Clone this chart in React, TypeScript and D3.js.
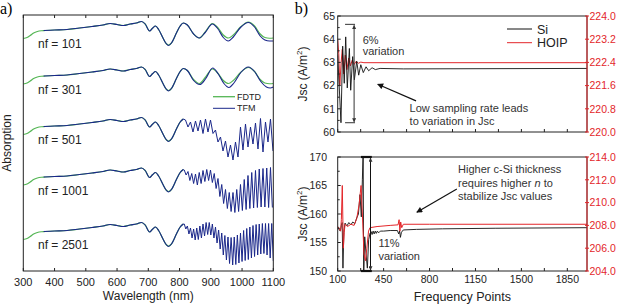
import * as d3 from "d3";

type Pt = [number, number];

// ---------- (a) absorption spectra, stacked ----------
const wavelengthTicks = [300, 400, 500, 600, 700, 800, 900, 1000, 1100];
const spectrumNames = ["nf = 101", "nf = 301", "nf = 501", "nf = 1001", "nf = 2501"];
// vertical shift of each spectrum (absorption units)
const spectrumShift = [4.02, 3.11, 2.1, 1.09, 0];

// FDTD reference spectrum
const fdtd: Pt[] = [
  [300, 0.55], [312, 0.57], [322, 0.61], [333, 0.66], [345, 0.69], [358, 0.705],
  [370, 0.71], [400, 0.72], [440, 0.73], [480, 0.76], [520, 0.79], [555, 0.82],
  [578, 0.85], [600, 0.83], [620, 0.81], [642, 0.84], [662, 0.86], [678, 0.89],
  [690, 0.84], [704, 0.7], [714, 0.76], [723, 0.8], [733, 0.73], [747, 0.56],
  [757, 0.45], [765, 0.42], [774, 0.46], [790, 0.66], [802, 0.8], [812, 0.86],
  [825, 0.82], [845, 0.64], [863, 0.56], [882, 0.68], [905, 0.85], [922, 0.77],
  [940, 0.62], [956, 0.56], [972, 0.62], [995, 0.78], [1020, 0.88], [1040, 0.8],
  [1058, 0.64], [1073, 0.57], [1088, 0.555], [1100, 0.56],
];

// TFM, part that all sampling densities share
const tfmCommon: Pt[] = [
  [365, 0.71], [400, 0.72], [440, 0.73], [480, 0.76], [520, 0.79], [555, 0.82],
  [578, 0.85], [600, 0.83], [620, 0.81], [642, 0.84], [662, 0.86], [678, 0.89],
  [690, 0.84], [704, 0.7], [714, 0.76], [723, 0.8], [733, 0.73], [747, 0.56],
  [757, 0.45], [765, 0.41], [774, 0.46], [790, 0.66], [802, 0.8], [812, 0.86],
];

const tfm101Tail: Pt[] = [
  [825, 0.82], [845, 0.64], [863, 0.56], [882, 0.67], [905, 0.84], [922, 0.75],
  [940, 0.57], [956, 0.5], [972, 0.58], [995, 0.77], [1020, 0.87], [1040, 0.78],
  [1058, 0.6], [1073, 0.52], [1088, 0.5], [1100, 0.5],
];
const tfm301Tail: Pt[] = [
  [825, 0.82], [845, 0.62], [865, 0.54], [884, 0.66], [906, 0.87], [924, 0.75],
  [942, 0.56], [958, 0.48], [974, 0.57], [996, 0.78], [1020, 0.89], [1040, 0.8],
  [1060, 0.6], [1078, 0.49], [1090, 0.47], [1100, 0.49],
];

// thin-film fringes: upper / lower turning points, one pair per step (nm)
const fringe501Start = 819;
const fringe501Step = 16;
const fringe501Hi = [0.84, 0.8, 0.82, 0.84, 0.86, 0.84, 0.64, 0.5, 0.42, 0.34, 0.4, 0.7, 0.76, 0.7, 0.78, 0.87, 0.8, 0.86];
const fringe501Lo = [0.7, 0.6, 0.62, 0.57, 0.6, 0.57, 0.4, 0.22, 0.1, 0.04, 0.1, 0.24, 0.3, 0.36, 0.26, 0.2, 0.4, 0.22];

const fringe1001Start = 815;
const fringe1001Step = 12;
const fringe1001Hi = [0.85, 0.82, 0.78, 0.77, 0.8, 0.84, 0.86, 0.85, 0.78, 0.68, 0.56, 0.46, 0.4, 0.4, 0.46, 0.56, 0.66, 0.74, 0.8, 0.84, 0.87, 0.88, 0.89, 0.9];
const fringe1001Lo = [0.75, 0.64, 0.58, 0.55, 0.58, 0.62, 0.64, 0.6, 0.48, 0.32, 0.18, 0.08, 0.02, 0.0, 0.02, 0.04, 0.06, 0.08, 0.09, 0.1, 0.11, 0.11, 0.1, 0.1];

const fringe2501Start = 815;
const fringe2501Step = 10;
const fringe2501Hi = [0.86, 0.82, 0.78, 0.76, 0.78, 0.82, 0.86, 0.89, 0.89, 0.86, 0.8, 0.74, 0.68, 0.63, 0.6, 0.59, 0.6, 0.64, 0.68, 0.73, 0.77, 0.8, 0.83, 0.85, 0.86, 0.87, 0.87, 0.87, 0.87];
const fringe2501Lo = [0.76, 0.66, 0.58, 0.54, 0.55, 0.58, 0.62, 0.65, 0.64, 0.58, 0.48, 0.36, 0.24, 0.14, 0.07, 0.04, 0.05, 0.08, 0.11, 0.13, 0.15, 0.18, 0.21, 0.24, 0.26, 0.27, 0.24, 0.18, 0.12];

// ---------- (b) Jsc vs number of frequency points ----------
const freqLabelTicks = [100, 450, 800, 1150, 1500, 1850];
const siTopTicks = [60, 61, 62, 63, 64, 65];
const hoipTopTicks = [220.0, 220.8, 221.6, 222.4, 223.2, 224.0];
const siBotTicks = [150, 155, 160, 165, 170];
const hoipBotTicks = [204, 206, 208, 210, 212, 214];

const siTop: Pt[] = [
  [100, 63.3], [125, 60.4], [138, 63.7], [150, 62.1], [161, 64.1], [173, 61.9],
  [189, 63.6], [199, 61.8], [214, 63.25], [227, 62.25], [245, 63.05], [260, 62.45],
  [276, 62.9], [295, 62.56], [316, 62.81], [336, 62.64], [362, 62.77], [387, 62.69],
  [423, 62.74], [600, 62.72], [2000, 62.74],
];
const hoipTop: Pt[] = [
  [100, 223.2], [108, 222.7], [116, 221.6], [126, 222.4], [135, 222.85], [146, 222.0],
  [158, 222.65], [170, 222.15], [184, 222.55], [197, 222.28], [211, 222.48], [226, 222.33],
  [241, 222.44], [257, 222.37], [276, 222.41], [300, 222.39], [2000, 222.39],
];
const siBot: Pt[] = [
  [100, 157.8], [110, 157.3], [120, 157.0], [128, 158.0], [134, 158.5], [140, 150.5],
  [147, 157.0], [156, 158.4], [170, 157.9], [185, 158.5], [200, 158.1], [215, 158.6],
  [230, 158.3], [245, 159.3], [258, 160.0], [270, 163.4], [280, 159.5], [288, 166.0],
  [294, 171.0], [298, 149.0], [306, 156.0], [316, 153.0], [326, 150.5], [336, 155.5],
  [346, 156.6], [355, 156.9], [362, 156.4], [370, 157.0], [378, 156.5], [386, 157.0],
  [394, 156.6], [402, 157.0], [412, 156.7], [425, 157.0], [450, 157.0], [500, 157.1],
  [555, 157.1], [565, 156.5], [572, 157.0], [578, 155.9], [586, 156.8], [600, 157.2],
  [700, 157.3], [900, 157.4], [1300, 157.5], [2000, 157.6],
];
const hoipBot: Pt[] = [
  [100, 207.9], [112, 207.7], [122, 207.5], [128, 208.5], [135, 211.5], [143, 206.0],
  [150, 207.4], [156, 208.1], [175, 207.9], [200, 208.1], [225, 208.0], [245, 208.6],
  [263, 209.8], [278, 211.5], [288, 209.0], [300, 205.5], [312, 204.9], [322, 206.0],
  [335, 207.5], [346, 207.8], [400, 207.9], [500, 208.0], [560, 208.05], [568, 208.5],
  [574, 207.5], [580, 208.3], [588, 207.8], [600, 208.1], [800, 208.1], [2000, 208.1],
];

const SANS = "'Liberation Sans', Arial, Helvetica, sans-serif";
const SERIF = "'Liberation Serif', 'Times New Roman', serif";
const GREEN = "#55b655";
const BLUE = "#1a278a";
const RED = "#e3262a";
const INK = "#222";

const zigzag = (start: number, step: number, hi: number[], lo: number[]): Pt[] =>
  hi.flatMap((h, i) => [
    [start + i * step, h] as Pt,
    [start + i * step + step / 2, lo[i]] as Pt,
  ]);

type SubplotProps = {
  id: string;
  yL: d3.ScaleLinear<number, number>;
  yR: d3.ScaleLinear<number, number>;
  leftTicks: number[];
  leftMinorStep: number;
  rightTicks: number[];
  leftLabelEnd: number;
  xLabels: boolean;
  children?: React.ReactNode;
};

export default function App() {
  // ---- panel a scales ----
  const xA = d3.scaleLinear().domain([300, 1100]).range([23.3, 273.3]);
  const yA = d3.scaleLinear().domain([-0.08, 5.04]).range([271, 15]);
  const [aL, aR] = xA.range();
  const [aB, aT] = yA.range();

  const lineA = (shift: number, curve: d3.CurveFactory) =>
    d3.line<Pt>().x((d) => xA(d[0])).y((d) => yA(d[1] + shift)).curve(curve);

  const fringes: (Pt[] | null)[] = [
    null,
    null,
    zigzag(fringe501Start, fringe501Step, fringe501Hi, fringe501Lo),
    zigzag(fringe1001Start, fringe1001Step, fringe1001Hi, fringe1001Lo),
    zigzag(fringe2501Start, fringe2501Step, fringe2501Hi, fringe2501Lo),
  ];
  const smoothTails: (Pt[] | null)[] = [tfm101Tail, tfm301Tail, null, null, null];
  // under the dense fringes the FDTD trace is hidden; draw it up to where they begin
  const fdtdShort = fdtd.filter((d) => d[0] <= 812);

  // ---- panel b scales ----
  const xB = d3.scaleLinear().domain([100, 2000]).range([337.7, 587]);
  const yTL = d3.scaleLinear().domain([60, 65]).range([132, 16]);
  const yTR = d3.scaleLinear().domain([220, 224]).range([132, 16]);
  const yBL = d3.scaleLinear().domain([150, 170]).range([271, 157]);
  const yBR = d3.scaleLinear().domain([204, 214]).range([271, 157]);
  const [bL, bR] = xB.range();
  const freqMinor = d3.range(100, 2001, 175);

  const lineB = (y: d3.ScaleLinear<number, number>) =>
    d3.line<Pt>().x((d) => xB(d[0])).y((d) => y(d[1]));

  const Subplot = ({ id, yL, yR, leftTicks, leftMinorStep, rightTicks, leftLabelEnd, xLabels, children }: SubplotProps) => {
    const [y1, y0] = yL.range();
    const [lo, hi] = yL.domain();
    const minor = d3.range(lo, hi + 1e-9, leftMinorStep);
    return (
      <g>
        <clipPath id={id}>
          <rect x={bL} y={y0} width={bR - bL} height={y1 - y0} />
        </clipPath>
        <g clipPath={`url(#${id})`}>{children}</g>
        <rect x={bL} y={y0} width={bR - bL} height={y1 - y0} fill="none" stroke={INK} strokeWidth={1} />
        <line x1={bR} x2={bR} y1={y0} y2={y1} stroke={RED} strokeWidth={1} />
        {minor.map((v) => (
          <line key={"lm" + v} x1={bL} x2={bL + (leftTicks.includes(+v.toFixed(3)) ? 3 : 2)} y1={yL(v)} y2={yL(v)} stroke={INK} />
        ))}
        {leftTicks.map((v) => (
          <text key={"lt" + v} x={leftLabelEnd} y={yL(v) + 3.7} fontSize={10.5} textAnchor="end" fill={INK}>
            {v}
          </text>
        ))}
        {rightTicks.map((v) => (
          <g key={"rt" + v}>
            <line x1={bR - 2} x2={bR + 2} y1={yR(v)} y2={yR(v)} stroke={RED} />
            <text x={bR + 2.5} y={yR(v) + 3.7} fontSize={10.5} fill={RED}>
              {v.toFixed(1)}
            </text>
          </g>
        ))}
        {freqMinor.map((f) => (
          <line key={"xm" + f} x1={xB(f)} x2={xB(f)} y1={y1} y2={y1 - 3} stroke={INK} />
        ))}
        {xLabels &&
          freqLabelTicks.map((f) => (
            <text key={"xl" + f} x={xB(f)} y={282.5} fontSize={10.5} textAnchor="middle" fill={INK}>
              {f}
            </text>
          ))}
      </g>
    );
  };

  return (
    <svg
      width={620}
      height={306}
      style={{ position: "absolute", left: 0, top: 0, background: "#fff" }}
      fontFamily={SANS}
    >
      <defs>
        <marker id="head" viewBox="0 0 10 10" refX="9" refY="5" markerUnits="userSpaceOnUse" markerWidth="8" markerHeight="6" orient="auto-start-reverse">
          <path d="M0,0 L10,5 L0,10 z" fill="#111" />
        </marker>
        <marker id="tip" viewBox="0 0 10 10" refX="9" refY="5" markerUnits="userSpaceOnUse" markerWidth="5" markerHeight="4" orient="auto-start-reverse">
          <path d="M0,0 L10,5 L0,10 z" fill="#333" />
        </marker>
        <clipPath id="clipA">
          <rect x={aL} y={aT} width={aR - aL} height={aB - aT} />
        </clipPath>
      </defs>

      {/* ---------------- panel a ---------------- */}
      <text x={0} y={14} fontFamily={SERIF} fontSize={16}>a)</text>
      <g clipPath="url(#clipA)">
        {spectrumShift.map((s, i) => {
          const fr = fringes[i];
          const tail = smoothTails[i];
          return (
            <g key={spectrumNames[i]}>
              <path d={lineA(s, d3.curveMonotoneX)(tail ? fdtd : fdtdShort) ?? ""} fill="none" stroke={GREEN} strokeWidth={1.2} />
              {tail ? (
                <path d={lineA(s, d3.curveMonotoneX)([...tfmCommon, ...tail]) ?? ""} fill="none" stroke={BLUE} strokeWidth={1.1} />
              ) : (
                <>
                  <path d={lineA(s, d3.curveMonotoneX)(tfmCommon) ?? ""} fill="none" stroke={BLUE} strokeWidth={1.1} />
                  <path d={lineA(s, d3.curveLinear)([tfmCommon[tfmCommon.length - 1], ...(fr ?? [])]) ?? ""} fill="none" stroke={BLUE} strokeWidth={1} />
                </>
              )}
            </g>
          );
        })}
      </g>
      {spectrumShift.map((s, i) => (
        <text key={"lab" + i} x={38} y={yA(s + 0.55) + 9.5} fontSize={12} fill={INK}>
          {spectrumNames[i]}
        </text>
      ))}
      <rect x={aL} y={aT} width={aR - aL} height={aB - aT} fill="none" stroke={INK} strokeWidth={1} />
      {wavelengthTicks.map((w) => (
        <g key={"w" + w}>
          <line x1={xA(w)} x2={xA(w)} y1={aB} y2={aB - 3} stroke={INK} />
          <line x1={xA(w)} x2={xA(w)} y1={aT} y2={aT + 3} stroke={INK} />
          <text x={xA(w)} y={285.5} fontSize={11} textAnchor="middle" fill={INK}>
            {w}
          </text>
        </g>
      ))}
      <text x={(aL + aR) / 2} y={300} fontSize={12} textAnchor="middle" fill={INK}>
        Wavelength (nm)
      </text>
      <text transform={`translate(10.5,${(aT + aB) / 2}) rotate(-90)`} fontSize={12} textAnchor="middle" fill={INK}>
        Absorption
      </text>
      {/* legend */}
      <line x1={213} x2={235} y1={96.7} y2={96.7} stroke={GREEN} strokeWidth={1.3} />
      <text x={237} y={99.8} fontSize={9} fill={INK}>FDTD</text>
      <line x1={213} x2={235} y1={108.3} y2={108.3} stroke={BLUE} strokeWidth={1} />
      <text x={237} y={111.4} fontSize={9} fill={INK}>TFM</text>

      {/* ---------------- panel b ---------------- */}
      <text x={308} y={14} fontFamily={SERIF} fontSize={16} textAnchor="end">b)</text>

      <Subplot id="clipBT" yL={yTL} yR={yTR} leftTicks={siTopTicks} leftMinorStep={0.5} rightTicks={hoipTopTicks} leftLabelEnd={335} xLabels={false}>
        <path d={lineB(yTR)(hoipTop) ?? ""} fill="none" stroke={RED} strokeWidth={1} />
        <path d={lineB(yTL)(siTop) ?? ""} fill="none" stroke="#111" strokeWidth={0.9} />
      </Subplot>
      <Subplot id="clipBB" yL={yBL} yR={yBR} leftTicks={siBotTicks} leftMinorStep={2.5} rightTicks={hoipBotTicks} leftLabelEnd={327} xLabels={true}>
        <path d={lineB(yBL)(siBot) ?? ""} fill="none" stroke="#111" strokeWidth={0.9} />
        <path d={lineB(yBR)(hoipBot) ?? ""} fill="none" stroke={RED} strokeWidth={1} />
      </Subplot>

      {/* y-axis titles */}
      {[(16 + 132) / 2, (157 + 271) / 2].map((cy) => (
        <text key={"jsc" + cy} transform={`translate(307,${cy}) rotate(-90)`} fontSize={12} textAnchor="middle" fill={INK}>
          Jsc (A/m
          <tspan fontSize={8} dy={-5}>2</tspan>
          <tspan dy={5}>)</tspan>
        </text>
      ))}
      <text x={(bL + bR) / 2} y={300.5} fontSize={12.5} textAnchor="middle" fill={INK}>
        Frequency Points
      </text>

      {/* legend */}
      <line x1={507} x2={532} y1={29} y2={29} stroke="#111" strokeWidth={1} />
      <text x={537} y={33.5} fontSize={12.5} fill={INK}>Si</text>
      <line x1={507} x2={532} y1={42.7} y2={42.7} stroke={RED} strokeWidth={1} />
      <text x={537} y={47.2} fontSize={12.5} fill={INK}>HOIP</text>

      {/* top annotations */}
      <g stroke="#333" strokeWidth={1}>
        <line x1={xB(156)} x2={xB(232)} y1={yTL(64.64)} y2={yTL(64.64)} />
        <line x1={xB(156)} x2={xB(232)} y1={yTL(60.4)} y2={yTL(60.4)} />
        <line x1={xB(225)} x2={xB(225)} y1={yTL(64.6)} y2={yTL(60.44)} markerStart="url(#tip)" markerEnd="url(#tip)" />
      </g>
      <text x={xB(291)} y={43.7} fontSize={11} fill="#333">6%</text>
      <text x={xB(291)} y={54.5} fontSize={11} fill="#333">variation</text>
      <line x1={xB(697)} y1={yTL(61.34)} x2={xB(405)} y2={yTL(62.06)} stroke="#111" strokeWidth={1.2} markerEnd="url(#head)" />
      <text x={xB(648)} y={112.3} fontSize={11} fill="#333">Low sampling rate leads</text>
      <text x={xB(648)} y={125} fontSize={11} fill="#333">to variation in Jsc</text>

      {/* bottom annotations */}
      <g stroke="#111">
        <line x1={xB(277)} x2={xB(360)} y1={yBL(170)} y2={yBL(170)} strokeWidth={2.2} />
        <line x1={xB(277)} x2={xB(360)} y1={yBL(150)} y2={yBL(150)} strokeWidth={2.2} />
        <line x1={xB(350)} x2={xB(350)} y1={yBL(169.8)} y2={yBL(150.2)} strokeWidth={1} markerStart="url(#tip)" markerEnd="url(#tip)" />
      </g>
      <text x={xB(410)} y={247} fontSize={11} fill="#333">11%</text>
      <text x={xB(410)} y={260} fontSize={11} fill="#333">variation</text>
      <line x1={xB(1008)} y1={yBL(164.4)} x2={xB(703)} y2={yBL(160.3)} stroke="#111" strokeWidth={1.2} markerEnd="url(#head)" />
      <text x={xB(1017)} y={173.3} fontSize={11} fill="#333">Higher c-Si thickness</text>
      <text x={xB(1017)} y={186.6} fontSize={11} fill="#333">
        requires higher <tspan fontStyle="italic">n</tspan> to
      </text>
      <text x={xB(1017)} y={199.9} fontSize={11} fill="#333">stabilize Jsc values</text>
    </svg>
  );
}
